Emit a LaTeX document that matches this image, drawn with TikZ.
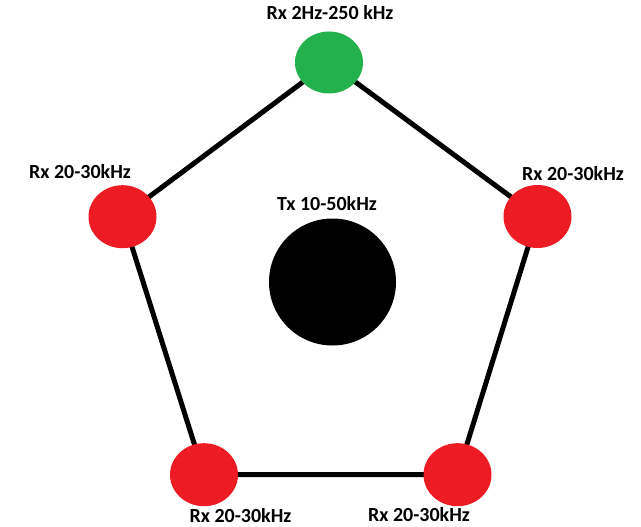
\documentclass[tikz,border=0pt]{standalone}
\usepackage{fontspec}
\setmainfont{Carlito}
\usetikzlibrary{shapes.geometric,backgrounds}
\definecolor{pgreen}{RGB}{34,177,76}
\definecolor{pred}{RGB}{237,28,36}
\tikzset{
  rx/.style={ellipse, draw=none, inner sep=0pt, minimum width=68pt, minimum height=63pt},
  lbl/.style={anchor=base, inner sep=0pt, font=\fontsize{20}{23}\selectfont\bfseries},
  edge/.style={line width=5pt, black}
}
\begin{document}
\begin{tikzpicture}[x=1pt,y=-1pt]
\useasboundingbox (0,0) rectangle (641,527);
\node[rx, fill=pgreen, minimum height=62pt] (g) at (329,62.5) {};
\node[rx, fill=pred] (l) at (122.5,216.7) {};
\node[rx, fill=pred] (r) at (537.5,216.5) {};
\node[rx, fill=pred] (bl) at (204,474.7) {};
\node[rx, fill=pred] (br) at (457.5,474.7) {};
\node[circle, fill=black, inner sep=0pt, minimum size=127pt] (tx) at (332.5,282) {};
\begin{scope}[on background layer]
\draw[edge] (g.center) -- (r.center) -- (br.center) -- (bl.center) -- (l.center) -- (g.center);
\end{scope}
\node[lbl] (tg) at (330,19.3) {Rx 2Hz-250 kHz};
\node[lbl] (tl) at (80,178.3) {Rx 20-30kHz};
\node[lbl] (tr) at (573,180.7) {Rx 20-30kHz};
\node[lbl] (tbl) at (240.5,522.5) {Rx 20-30kHz};
\node[lbl] (tbr) at (419,521.5) {Rx 20-30kHz};
\node[lbl] (ttx) at (327,210.7) {Tx 10-50kHz};
\end{tikzpicture}
\end{document}
